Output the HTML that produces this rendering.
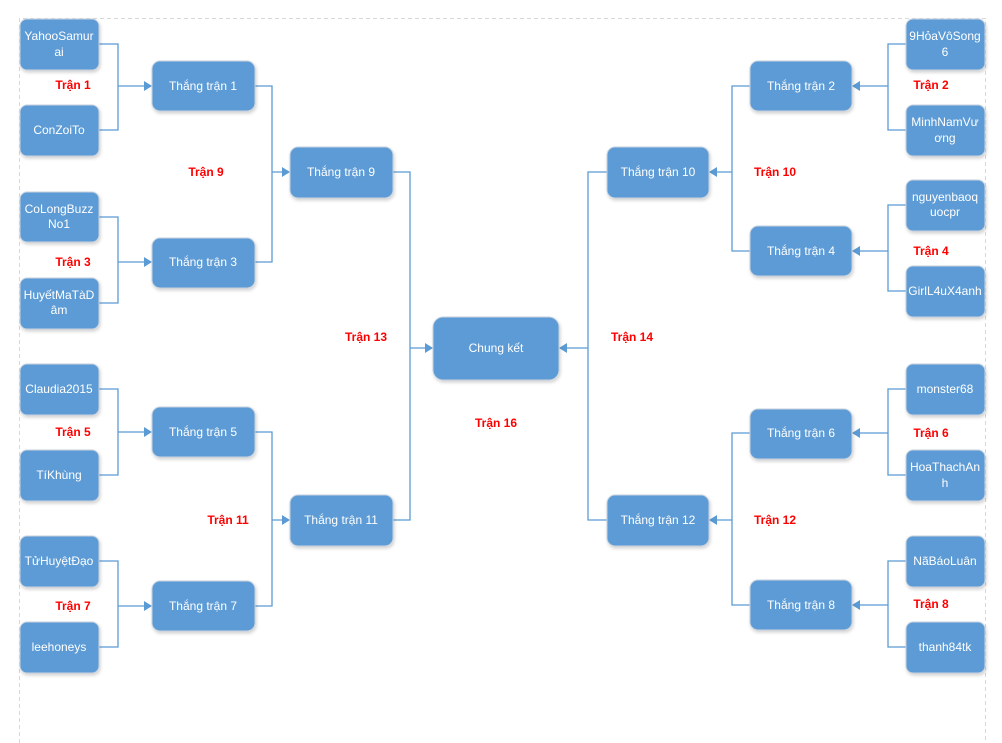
<!DOCTYPE html>
<html><head><meta charset="utf-8"><style>
html,body{margin:0;padding:0;background:#fff}
svg{display:block}
.b{fill:#5b9bd5;stroke:#c9d3df;stroke-width:1;filter:url(#sh)}
.t{fill:#fff;font-family:"Liberation Sans",sans-serif;font-size:12px;text-anchor:middle}
.r{fill:#f00;font-family:"Liberation Sans",sans-serif;font-size:12px;font-weight:bold;text-anchor:middle}
.l{fill:none;stroke:#5b9bd5;stroke-width:1.3}
.a{fill:#5b9bd5}
</style></head><body>
<svg width="1002" height="743" viewBox="0 0 1002 743" xmlns="http://www.w3.org/2000/svg">
<defs><filter id="sh" x="-10%" y="-10%" width="125%" height="130%"><feDropShadow dx="1" dy="2" stdDeviation="1.5" flood-color="#000" flood-opacity="0.18"/></filter></defs>
<path d="M19.5 743 V18.5 H985.5 V743" fill="none" stroke="#d8d8d8" stroke-dasharray="4,3"/>

<!-- left connectors -->
<path class="l" d="M99 44H118V130H99M118 86H145"/>
<path class="l" d="M99 217H118V303H99M118 262H145"/>
<path class="l" d="M99 389H118V475H99M118 432H145"/>
<path class="l" d="M99 561H118V647H99M118 606H145"/>
<path class="l" d="M255 86H272V262H255M272 172H283"/>
<path class="l" d="M255 432H272V606H255M272 520H283"/>
<path class="l" d="M393 172H410V520H393M410 348H426"/>
<g class="a">
<path d="M152 86l-8-5v10z"/><path d="M152 262l-8-5v10z"/><path d="M152 432l-8-5v10z"/><path d="M152 606l-8-5v10z"/>
<path d="M290 172l-8-5v10z"/><path d="M290 520l-8-5v10z"/><path d="M433 348l-8-5v10z"/>
</g>
<!-- right connectors -->
<path class="l" d="M906 44H888V130H906M888 86H859"/>
<path class="l" d="M906 205H888V291H906M888 251H859"/>
<path class="l" d="M906 389H888V475H906M888 433H859"/>
<path class="l" d="M906 561H888V647H906M888 605H859"/>
<path class="l" d="M750 86H732V251H750M732 172H716"/>
<path class="l" d="M750 433H732V605H750M732 520H716"/>
<path class="l" d="M607 172H588V520H607M588 348H566"/>
<g class="a">
<path d="M852 86l8-5v10z"/><path d="M852 251l8-5v10z"/><path d="M852 433l8-5v10z"/><path d="M852 605l8-5v10z"/>
<path d="M709 172l8-5v10z"/><path d="M709 520l8-5v10z"/><path d="M559 348l8-5v10z"/>
</g>

<!-- left leaves -->
<rect class="b" x="20" y="19" width="79" height="51" rx="7"/><text class="t" x="59" y="40">YahooSamur</text><text class="t" x="59" y="56">ai</text>
<rect class="b" x="20" y="105" width="79" height="51" rx="7"/><text class="t" x="59" y="134">ConZoiTo</text>
<rect class="b" x="20" y="192" width="79" height="50" rx="7"/><text class="t" x="59" y="213">CoLongBuzz</text><text class="t" x="59" y="228">No1</text>
<rect class="b" x="20" y="278" width="79" height="51" rx="7"/><text class="t" x="59" y="299">HuyếtMaTàD</text><text class="t" x="59" y="314">âm</text>
<rect class="b" x="20" y="364" width="79" height="51" rx="7"/><text class="t" x="59" y="393">Claudia2015</text>
<rect class="b" x="20" y="450" width="79" height="51" rx="7"/><text class="t" x="59" y="479">TíKhùng</text>
<rect class="b" x="20" y="536" width="79" height="51" rx="7"/><text class="t" x="59" y="565">TửHuyệtĐạo</text>
<rect class="b" x="20" y="622" width="79" height="51" rx="7"/><text class="t" x="59" y="651">leehoneys</text>

<rect class="b" x="152" y="61" width="103" height="50" rx="8"/><text class="t" x="203" y="90">Thắng trận 1</text>
<rect class="b" x="152" y="238" width="103" height="50" rx="8"/><text class="t" x="203" y="266">Thắng trận 3</text>
<rect class="b" x="152" y="407" width="103" height="50" rx="8"/><text class="t" x="203" y="436">Thắng trận 5</text>
<rect class="b" x="152" y="581" width="103" height="50" rx="8"/><text class="t" x="203" y="610">Thắng trận 7</text>
<rect class="b" x="290" y="147" width="103" height="51" rx="8"/><text class="t" x="341" y="176">Thắng trận 9</text>
<rect class="b" x="290" y="495" width="103" height="51" rx="8"/><text class="t" x="341" y="524">Thắng trận 11</text>

<rect class="b" x="433" y="317" width="126" height="63" rx="10"/><text class="t" x="496" y="352">Chung kết</text>

<rect class="b" x="607" y="147" width="102" height="51" rx="8"/><text class="t" x="658" y="176">Thắng trận 10</text>
<rect class="b" x="607" y="495" width="102" height="51" rx="8"/><text class="t" x="658" y="524">Thắng trận 12</text>
<rect class="b" x="750" y="61" width="102" height="50" rx="8"/><text class="t" x="801" y="90">Thắng trận 2</text>
<rect class="b" x="750" y="226" width="102" height="50" rx="8"/><text class="t" x="801" y="255">Thắng trận 4</text>
<rect class="b" x="750" y="409" width="102" height="50" rx="8"/><text class="t" x="801" y="437">Thắng trận 6</text>
<rect class="b" x="750" y="580" width="102" height="50" rx="8"/><text class="t" x="801" y="609">Thắng trận 8</text>

<rect class="b" x="906" y="19" width="79" height="51" rx="7"/><text class="t" x="945" y="40">9HỏaVôSong</text><text class="t" x="945" y="56">6</text>
<rect class="b" x="906" y="105" width="79" height="51" rx="7"/><text class="t" x="945" y="126">MinhNamVư</text><text class="t" x="945" y="142">ơng</text>
<rect class="b" x="906" y="180" width="79" height="51" rx="7"/><text class="t" x="945" y="201">nguyenbaoq</text><text class="t" x="945" y="216">uocpr</text>
<rect class="b" x="906" y="266" width="79" height="51" rx="7"/><text class="t" x="945" y="295">GirlL4uX4anh</text>
<rect class="b" x="906" y="364" width="79" height="51" rx="7"/><text class="t" x="945" y="393">monster68</text>
<rect class="b" x="906" y="450" width="79" height="51" rx="7"/><text class="t" x="945" y="471">HoaThachAn</text><text class="t" x="945" y="487">h</text>
<rect class="b" x="906" y="536" width="79" height="51" rx="7"/><text class="t" x="945" y="565">NãBáoLuân</text>
<rect class="b" x="906" y="622" width="79" height="51" rx="7"/><text class="t" x="945" y="651">thanh84tk</text>

<!-- labels -->
<text class="r" x="73" y="89">Trận 1</text>
<text class="r" x="73" y="266">Trận 3</text>
<text class="r" x="73" y="436">Trận 5</text>
<text class="r" x="73" y="610">Trận 7</text>
<text class="r" x="206" y="176">Trận 9</text>
<text class="r" x="228" y="524">Trận 11</text>
<text class="r" x="366" y="341">Trận 13</text>
<text class="r" x="496" y="427">Trận 16</text>
<text class="r" x="632" y="341">Trận 14</text>
<text class="r" x="775" y="176">Trận 10</text>
<text class="r" x="775" y="524">Trận 12</text>
<text class="r" x="931" y="89">Trận 2</text>
<text class="r" x="931" y="255">Trận 4</text>
<text class="r" x="931" y="437">Trận 6</text>
<text class="r" x="931" y="608">Trận 8</text>
</svg>
</body></html>
